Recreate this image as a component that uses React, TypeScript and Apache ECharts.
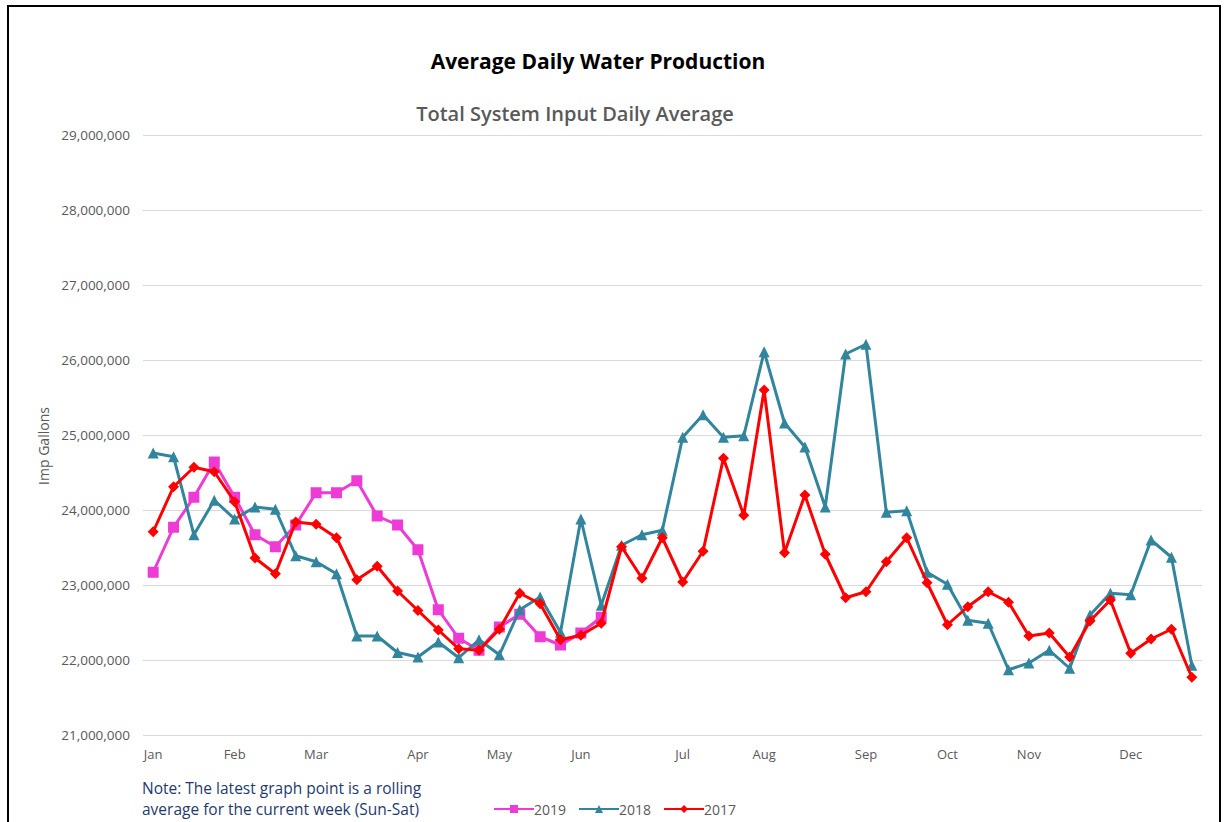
import React, { useEffect, useRef } from "react";
import * as echarts from "echarts";

const monthLabels = ["Jan", "Feb", "Mar", "Apr", "May", "Jun", "Jul", "Aug", "Sep", "Oct", "Nov", "Dec"];
const monthStartWeek = [0, 4, 8, 13, 17, 21, 26, 30, 35, 39, 43, 48];
const weekCount = 52;

const s2019 = [
  23.17, 23.77, 24.17, 24.64, 24.17, 23.67, 23.51, 23.8, 24.23, 24.23, 24.39, 23.92, 23.8,
  23.47, 22.67, 22.29, 22.13, 22.44, 22.61, 22.31, 22.2, 22.36, 22.57,
];
const s2018 = [
  24.76, 24.71, 23.67, 24.13, 23.88, 24.04, 24.01, 23.39, 23.31, 23.15, 22.32, 22.32, 22.1,
  22.04, 22.24, 22.03, 22.27, 22.07, 22.67, 22.84, 22.37, 23.88, 22.73, 23.53, 23.67, 23.73,
  24.97, 25.27, 24.97, 24.99, 26.11, 25.16, 24.84, 24.04, 26.08, 26.21, 23.97, 23.99, 23.17,
  23.01, 22.53, 22.49, 21.87, 21.96, 22.13, 21.89, 22.6, 22.89, 22.87, 23.6, 23.37, 21.93,
];
const s2017 = [
  23.71, 24.31, 24.57, 24.51, 24.11, 23.36, 23.15, 23.84, 23.81, 23.63, 23.07, 23.25, 22.92,
  22.66, 22.4, 22.15, 22.13, 22.41, 22.89, 22.75, 22.27, 22.33, 22.49, 23.51, 23.09, 23.63,
  23.04, 23.45, 24.69, 23.93, 25.6, 23.43, 24.2, 23.41, 22.83, 22.91, 23.31, 23.63, 23.03,
  22.47, 22.71, 22.91, 22.77, 22.32, 22.36, 22.04, 22.52, 22.8, 22.09, 22.28, 22.41, 21.77,
];

const toGallons = (arr: number[]) => arr.map((v) => Math.round(v * 1000000));

const categories: string[] = Array.from({ length: weekCount }, (_, i) => {
  const m = monthStartWeek.indexOf(i);
  return m >= 0 ? monthLabels[m] : "";
});

export default function App() {
  const ref = useRef<HTMLDivElement>(null);
  useEffect(() => {
    if (!ref.current) return;
    const chart = echarts.init(ref.current, undefined, { renderer: "svg" });
    const font = "Open Sans, Noto Sans, sans-serif";
    chart.setOption({
      animation: false,
      backgroundColor: "#ffffff",
      title: [
        {
          text: "Average Daily Water Production",
          left: 593,
          textAlign: "center",
          top: 45,
          textStyle: { fontFamily: font, fontWeight: "bold", fontSize: 21, color: "#000000" },
        },
        {
          text: "Total System Input Daily Average",
          left: 570,
          textAlign: "center",
          top: 98,
          textStyle: { fontFamily: font, fontWeight: 600, fontSize: 20, color: "#595959" },
        },
      ],
      legend: {
        left: 488,
        top: 797,
        itemWidth: 40,
        itemHeight: 10,
        itemGap: 12,
        textStyle: { fontFamily: font, fontSize: 14, color: "#595959", padding: [0, 0, 0, -5] },
        data: ["2019", "2018", "2017"],
      },
      grid: { left: 143, right: 24, top: 135, bottom: 87 },
      xAxis: {
        type: "category",
        data: categories,
        boundaryGap: true,
        axisLine: { show: false },
        axisTick: { show: false },
        axisLabel: { interval: 0, color: "#595959", fontFamily: font, fontSize: 13, margin: 12 },
        splitLine: { show: false },
      },
      yAxis: {
        type: "value",
        min: 21000000,
        max: 29000000,
        interval: 1000000,
        name: "Imp Gallons",
        nameLocation: "middle",
        nameGap: 86,
        nameTextStyle: { color: "#595959", fontFamily: font, fontSize: 14, padding: [0, 22, 0, 0] },
        axisLine: { show: false },
        axisTick: { show: false },
        axisLabel: {
          color: "#595959",
          fontFamily: font,
          fontSize: 13.5,
          margin: 13,
          formatter: (v: number) => v.toLocaleString("en-US"),
        },
        splitLine: { lineStyle: { color: "#D9D9D9", width: 1 } },
      },
      series: [
        {
          name: "2019",
          type: "line",
          data: toGallons(s2019),
          symbol: "rect",
          symbolSize: 11,
          color: "#EE3BD6",
          lineStyle: { width: 3 },
          z: 2,
        },
        {
          name: "2018",
          type: "line",
          data: toGallons(s2018),
          symbol: "triangle",
          symbolSize: 11,
          color: "#31859C",
          lineStyle: { width: 3 },
          z: 3,
        },
        {
          name: "2017",
          type: "line",
          data: toGallons(s2017),
          symbol: "diamond",
          symbolSize: 11,
          color: "#FF0000",
          lineStyle: { width: 3 },
          z: 4,
        },
      ],
      graphic: [
        {
          type: "rect",
          shape: { x: 8, y: 6, width: 1212, height: 840 },
          style: { fill: "none", stroke: "#000000", lineWidth: 2 },
          silent: true,
        },
        {
          type: "text",
          left: 142,
          top: 777,
          style: {
            text: "Note: The latest graph point is a rolling\naverage for the current week (Sun-Sat)",
            fontFamily: font,
            fontSize: 15.5,
            lineHeight: 21,
            fill: "#1F3A6E",
          },
        },
      ],
    });
    return () => chart.dispose();
  }, []);
  return (
    <div
      ref={ref}
      style={{ position: "absolute", left: 0, top: 0, width: 1226, height: 822 }}
    />
  );
}
